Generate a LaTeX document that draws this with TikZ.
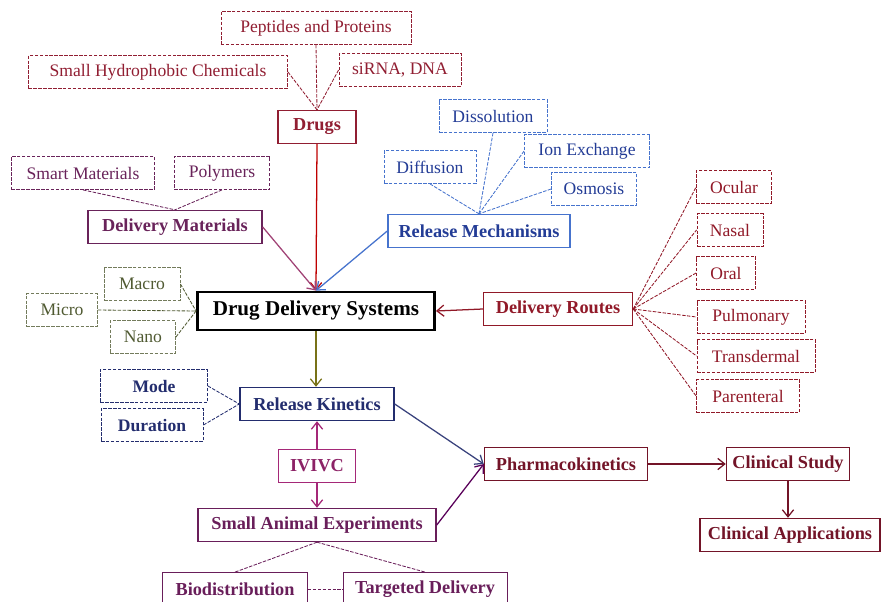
\documentclass[tikz,border=0pt]{standalone}
\usepackage{fontspec}
\setmainfont{Liberation Serif}
\usepackage{tikz}
\usetikzlibrary{arrows.meta}
\definecolor{drugred}{RGB}{145,30,50}
\definecolor{mechblue}{RGB}{70,115,205}
\definecolor{mechtext}{RGB}{35,60,150}
\definecolor{matpurple}{RGB}{105,35,90}
\definecolor{sizegreen}{RGB}{80,90,50}
\definecolor{routered}{RGB}{145,25,40}
\definecolor{kinnavy}{RGB}{35,45,110}
\definecolor{animpurple}{RGB}{105,30,90}
\definecolor{ivivcpink}{RGB}{165,40,120}
\definecolor{clinred}{RGB}{115,20,40}

\tikzset{
  mainbox/.style={draw, line width=1pt, fill=white, minimum height=0.825cm, inner sep=2pt,
    font=\fontsize{13}{15}\selectfont\bfseries},
  subbox/.style={draw, dash pattern=on 2.5pt off 1pt, line width=0.6pt, fill=white, minimum height=0.825cm, inner sep=2pt,
    font=\fontsize{12.5}{14}\selectfont},
  link/.style={dash pattern=on 2.5pt off 1pt, line width=0.6pt},
  feed/.style={line width=0.9pt, -{Straight Barb[length=5pt,width=8pt]}},
  drg/.style={draw=drugred, text=drugred},
  mech/.style={draw=mechblue, text=mechtext},
  mat/.style={draw=matpurple, text=matpurple},
  size/.style={draw=sizegreen!80, text=sizegreen},
  route/.style={draw=routered, text=routered},
  kin/.style={draw=kinnavy, text=kinnavy},
  anim/.style={draw=animpurple, text=animpurple},
  clin/.style={draw=clinred, text=clinred},
}

\begin{document}
\begin{tikzpicture}[x=0.025cm, y=-0.025cm]
  \useasboundingbox (0,0) rectangle (883,601);
  \clip (0,0) rectangle (883,601);

  % centre
  \node[mainbox, draw=black, line width=2pt, minimum width=5.925cm, minimum height=0.95cm,
    font=\fontsize{15}{17}\selectfont\bfseries] (dds) at (316,311) {Drug Delivery Systems};

  % drugs
  \node[subbox, drg, minimum width=4.75cm] (pep) at (316,28) {Peptides and Proteins};
  \node[subbox, drg, minimum width=6.475cm] (shc) at (158,72) {Small Hydrophobic Chemicals};
  \node[subbox, drg, minimum width=3.05cm] (sirna) at (400,70) {siRNA, DNA};
  \node[mainbox, drg, minimum width=1.95cm] (drugs) at (317,127) {Drugs};
  \foreach \s/\a in {pep/south, shc/east, sirna/west}
    \draw[link, drugred] (\s.\a) -- (drugs.north);

  % release mechanisms
  \node[subbox, mech, minimum width=2.7cm] (diss) at (493,116) {Dissolution};
  \node[subbox, mech, minimum width=2.3cm] (diff) at (430,167) {Diffusion};
  \node[subbox, mech, minimum width=3.125cm] (ion) at (587,151) {Ion Exchange};
  \node[subbox, mech, minimum width=2.125cm] (osm) at (594,189) {Osmosis};
  \node[mainbox, mech, minimum width=4.55cm] (relmech) at (479,231) {Release Mechanisms};
  \foreach \s/\a in {diss/south, diff/south, ion/west, osm/west}
    \draw[link, mechblue] (\s.\a) -- (relmech.north);

  % delivery materials
  \node[subbox, mat, minimum width=3.575cm] (smart) at (83,173) {Smart Materials};
  \node[subbox, mat, minimum width=2.375cm] (poly) at (222,173) {Polymers};
  \node[mainbox, mat, minimum width=4.35cm] (delmat) at (175,227) {Delivery Materials};
  \foreach \s in {smart, poly}
    \draw[link, matpurple] (\s.south) -- (delmat.north);

  % size scale
  \node[subbox, size, minimum width=1.9cm] (macro) at (142,284) {Macro};
  \node[subbox, size, minimum width=1.775cm] (micro) at (62,310) {Micro};
  \node[subbox, size, minimum width=1.625cm] (nano) at (143,337) {Nano};
  \foreach \s in {macro, micro, nano}
    \draw[link, sizegreen] (\s.east) -- (dds.west);

  % delivery routes
  \node[mainbox, route, minimum width=3.725cm] (routes) at (558,309) {Delivery Routes};
  \node[subbox, route, minimum width=1.875cm] (ocular) at (734,187) {Ocular};
  \node[subbox, route, minimum width=1.65cm] (nasal) at (730,230) {Nasal};
  \node[subbox, route, minimum width=1.475cm] (oral) at (726,273) {Oral};
  \node[subbox, route, minimum width=2.7cm] (pulm) at (751,317) {Pulmonary};
  \node[subbox, route, minimum width=2.95cm] (trans) at (756,356) {Transdermal};
  \node[subbox, route, minimum width=2.575cm] (paren) at (748,396) {Parenteral};
  \foreach \s in {ocular, nasal, oral, pulm, trans, paren}
    \draw[link, routered] (routes.east) -- (\s.west);

  % kinetics and testing
  \node[mainbox, kin, minimum width=3.85cm] (relkin) at (317,404) {Release Kinetics};
  \node[subbox, kin, minimum width=2.675cm, font=\fontsize{12.5}{14}\selectfont\bfseries] (mode) at (154,386) {Mode};
  \node[subbox, kin, minimum width=2.55cm, font=\fontsize{12.5}{14}\selectfont\bfseries] (dur) at (152,425) {Duration};
  \foreach \s in {mode, dur}
    \draw[link, kinnavy] (\s.east) -- (relkin.west);
  \node[mainbox, draw=ivivcpink, text=ivivcpink!85!black, minimum width=1.925cm] (ivivc) at (317,466) {IVIVC};
  \node[mainbox, anim, minimum width=5.95cm] (sae) at (317,525) {Small Animal Experiments};
  \node[mainbox, anim, line width=0.6pt, minimum width=3.625cm] (bio) at (235,589) {Biodistribution};
  \node[mainbox, anim, line width=0.6pt, minimum width=4.1cm] (target) at (425,589) {Targeted Delivery};
  \draw[link, animpurple] (sae.south) -- (bio.north);
  \draw[link, animpurple] (sae.south) -- (target.north);
  \draw[link, animpurple] (bio.east) -- (target.west);

  % clinical side
  \node[mainbox, clin, minimum width=4.075cm] (pk) at (566,464) {Pharmacokinetics};
  \node[mainbox, clin, minimum width=3.075cm] (cstudy) at (788,464) {Clinical Study};
  \node[mainbox, clin, minimum width=4.5cm] (capp) at (790,535) {Clinical Applications};

  % arrows
  \draw[feed, red!75!black] (drugs.south) -- (dds.north);
  \draw[feed, magenta!60!black] (delmat.east) -- (dds.north);
  \draw[feed, mechblue] (relmech.west) -- (dds.north);
  \draw[feed, routered] (routes.west) -- (dds.east);
  \draw[feed, olive!80!black] (dds.south) -- (dds.south |- relkin.north);
  \draw[feed, ivivcpink] (ivivc.north) -- (ivivc.north |- relkin.south);
  \draw[feed, ivivcpink] (ivivc.south) -- (ivivc.south |- sae.north);
  \draw[feed, kinnavy!90] (relkin.east) -- (pk.west);
  \draw[feed, violet!70!black] (sae.east) -- (pk.west);
  \draw[feed, clinred] (pk.east) -- (cstudy.west);
  \draw[feed, clinred] (cstudy.south) -- (cstudy.south |- capp.north);
\end{tikzpicture}
\end{document}
